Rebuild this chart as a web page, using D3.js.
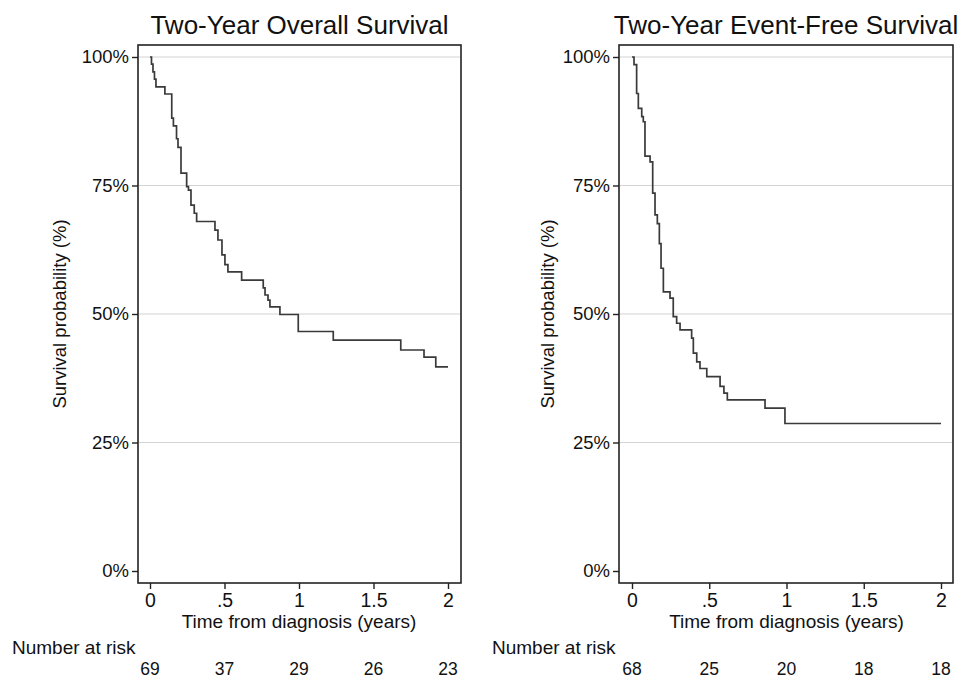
<!DOCTYPE html>
<html>
<head>
<meta charset="utf-8">
<script src="https://cdn.jsdelivr.net/npm/d3@7"></script>
<style>
  body { margin: 0; background: #fff; }
  svg { font-family: "Liberation Sans", Arial, Helvetica, sans-serif; }
</style>
</head>
<body>
<div id="chart"></div>
<script>
// Kaplan-Meier steps: [time in years, survival %]
const osSteps = [
  [0, 100], [0.01, 98.6], [0.02, 97.1], [0.03, 95.7], [0.04, 94.2],
  [0.10, 92.8], [0.146, 88.1], [0.157, 86.6], [0.178, 84.1], [0.188, 82.4],
  [0.208, 77.4], [0.246, 74.8], [0.258, 74.1], [0.275, 71.2], [0.297, 69.6],
  [0.313, 68.0], [0.436, 66.3], [0.456, 64.4], [0.483, 61.5], [0.503, 59.6],
  [0.523, 58.2], [0.615, 56.6], [0.76, 55.1], [0.772, 53.7], [0.792, 52.7],
  [0.805, 51.4], [0.872, 49.9], [0.995, 46.6], [1.23, 44.9], [1.683, 43.0],
  [1.839, 41.6], [1.918, 39.7], [2.0, 39.7]
];
const efsSteps = [
  [0, 100], [0.013, 98.5], [0.030, 92.9], [0.041, 90.0], [0.063, 88.4],
  [0.073, 87.4], [0.084, 80.7], [0.117, 79.6], [0.134, 73.5], [0.149, 69.3],
  [0.164, 67.6], [0.177, 63.7], [0.188, 58.9], [0.203, 54.3], [0.246, 53.1],
  [0.267, 49.5], [0.289, 48.2], [0.311, 46.9], [0.386, 45.3], [0.397, 42.4],
  [0.419, 40.7], [0.440, 39.4], [0.484, 37.8], [0.570, 35.9], [0.595, 34.6],
  [0.617, 33.3], [0.861, 31.7], [0.990, 28.7], [2.0, 28.7]
];
const xTicks = [0, 0.5, 1, 1.5, 2];
const xTickLabels = ["0", ".5", "1", "1.5", "2"];
const yTicks = [0, 25, 50, 75, 100];
const osAtRisk = [69, 37, 29, 26, 23];
const efsAtRisk = [68, 25, 20, 18, 18];

const W = 969, H = 678;
const svg = d3.select("#chart").append("svg")
  .attr("width", W).attr("height", H)
  .attr("viewBox", `0 0 ${W} ${H}`);

const y = d3.scaleLinear().domain([0, 100]).range([571, 57]);

function panel(opts) {
  const { title, steps, atRisk, x, frame, ylabX, riskX } = opts;
  const g = svg.append("g");

  // grid
  g.selectAll("line.grid")
    .data(yTicks.filter(d => d > 0))
    .join("line")
    .attr("class", "grid")
    .attr("x1", frame.left + 1).attr("x2", frame.right - 1)
    .attr("y1", d => y(d)).attr("y2", d => y(d))
    .attr("stroke", "#d4d4d4").attr("stroke-width", 1.2);

  // curve
  const line = d3.line()
    .x(d => x(d[0]))
    .y(d => y(d[1]))
    .curve(d3.curveStepAfter);
  g.append("path")
    .datum(steps)
    .attr("d", line)
    .attr("fill", "none")
    .attr("stroke", "#3a3a3a")
    .attr("stroke-width", 1.7);

  // frame
  g.append("rect")
    .attr("x", frame.left).attr("y", frame.top)
    .attr("width", frame.right - frame.left)
    .attr("height", frame.bottom - frame.top)
    .attr("fill", "none").attr("stroke", "#222").attr("stroke-width", 1.6);

  // y axis
  const ya = g.append("g")
    .attr("transform", `translate(${frame.left},0)`)
    .call(d3.axisLeft(y).tickValues(yTicks).tickFormat(d => d + "%").tickSize(6).tickPadding(3));
  ya.select(".domain").remove();
  ya.selectAll("line").attr("stroke", "#222").attr("stroke-width", 1.4);
  ya.selectAll("text").attr("font-size", 18.5).attr("fill", "#111").attr("font-family", null);

  // x axis
  const xa = g.append("g")
    .attr("transform", `translate(0,${frame.bottom})`)
    .call(d3.axisBottom(x).tickValues(xTicks)
      .tickFormat((d, i) => xTickLabels[i]).tickSize(6).tickPadding(4));
  xa.select(".domain").remove();
  xa.selectAll("line").attr("stroke", "#222").attr("stroke-width", 1.4);
  xa.selectAll("text").attr("font-size", 19.5).attr("fill", "#111").attr("font-family", null);

  const cx = (frame.left + frame.right) / 2;

  // title
  g.append("text")
    .attr("x", cx).attr("y", 34)
    .attr("text-anchor", "middle")
    .attr("font-size", 26).attr("fill", "#111")
    .text(title);

  // axis labels
  g.append("text")
    .attr("transform", `translate(${ylabX},${y(50)}) rotate(-90)`)
    .attr("text-anchor", "middle")
    .attr("font-size", 18.5).attr("fill", "#111")
    .text("Survival probability (%)");

  g.append("text")
    .attr("x", (x(0) + x(2)) / 2).attr("y", 628)
    .attr("text-anchor", "middle")
    .attr("font-size", 19).attr("fill", "#111")
    .text("Time from diagnosis (years)");

  // number at risk
  g.append("text")
    .attr("x", riskX).attr("y", 654)
    .attr("font-size", 19).attr("fill", "#111")
    .text("Number at risk");

  g.selectAll("text.risk")
    .data(atRisk)
    .join("text")
    .attr("class", "risk")
    .attr("x", (d, i) => x(xTicks[i]))
    .attr("y", 675)
    .attr("text-anchor", "middle")
    .attr("font-size", 17.5).attr("fill", "#111")
    .text(d => d);
}

panel({
  title: "Two-Year Overall Survival",
  steps: osSteps,
  atRisk: osAtRisk,
  x: d3.scaleLinear().domain([0, 2]).range([150, 448]),
  frame: { left: 138, right: 461, top: 45, bottom: 583 },
  ylabX: 66,
  riskX: 12
});

panel({
  title: "Two-Year Event-Free Survival",
  steps: efsSteps,
  atRisk: efsAtRisk,
  x: d3.scaleLinear().domain([0, 2]).range([632, 941]),
  frame: { left: 619, right: 953, top: 45, bottom: 583 },
  ylabX: 554,
  riskX: 492
});
</script>
</body>
</html>
